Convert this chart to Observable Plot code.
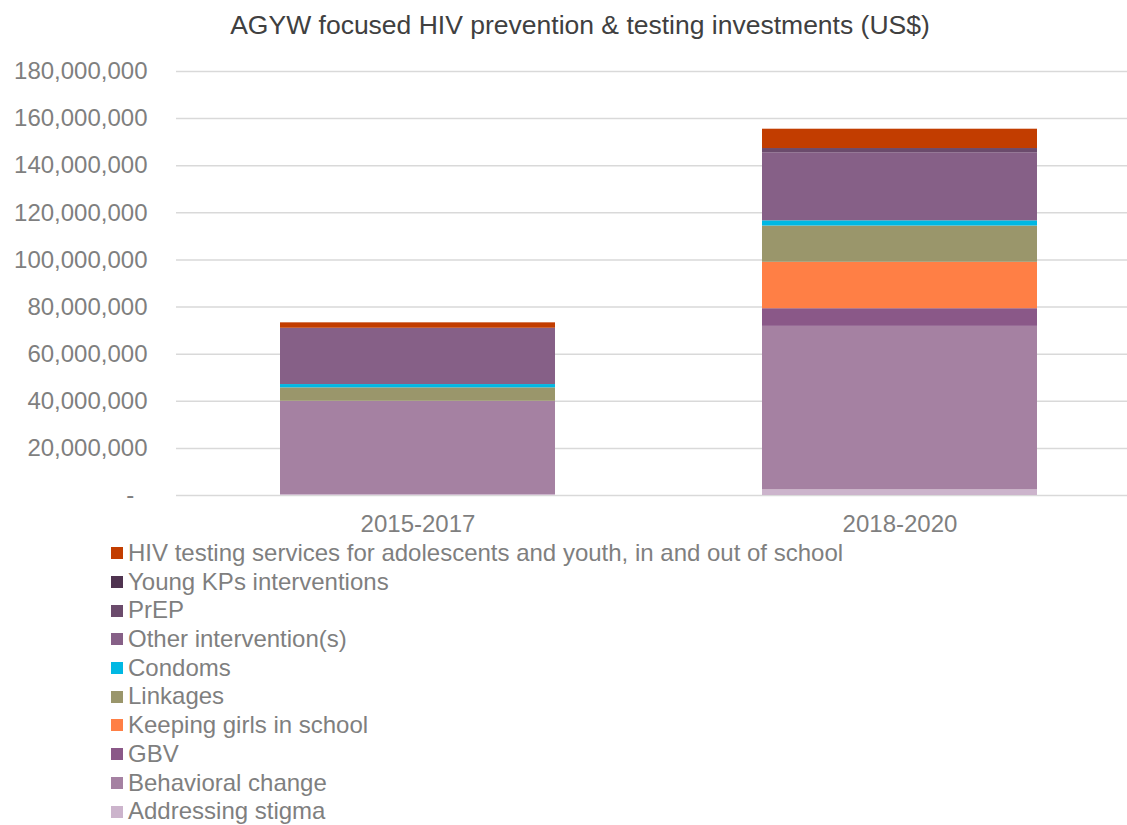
<!DOCTYPE html>
<html>
<head>
<meta charset="utf-8">
<script src="https://cdn.jsdelivr.net/npm/d3@7"></script>
<script src="https://cdn.jsdelivr.net/npm/@observablehq/plot@0.6"></script>
<style>
  html, body { margin: 0; padding: 0; background: #fff; }
  #wrap { position: relative; width: 1127px; height: 825px; font-family: "Liberation Sans", Arial, sans-serif; }
  #title { position: absolute; top: 9px; left: 0; width: 1160px; text-align: center; font-size: 26.5px; line-height: 32px; color: #404040; white-space: nowrap; }
  #chart { position: absolute; top: 0; left: 0; }
  #legend { position: absolute; top: 539px; left: 111px; font-size: 24px; color: #7f7f7f; }
  .item { height: 28.7px; line-height: 28.7px; display: flex; align-items: center; white-space: nowrap; }
  .sw { width: 12px; height: 12px; margin-right: 5px; flex: none; }
</style>
</head>
<body>
<div id="wrap">
  <div id="chart"></div>
  <div id="title">AGYW focused HIV prevention &amp; testing investments (US$)</div>
  <div id="legend"></div>
</div>
<script>
// Periods (x categories)
const periods = ["2015-2017", "2018-2020"];

// Series, stacked bottom to top
const seriesNames = [
  "Addressing stigma",
  "Behavioral change",
  "GBV",
  "Keeping girls in school",
  "Linkages",
  "Condoms",
  "Other intervention(s)",
  "PrEP",
  "Young KPs interventions",
  "HIV testing services for adolescents and youth, in and out of school"
];

// Values in millions of US$, per series, [2015-2017, 2018-2020]
const addressingStigma = [0.4, 2.4];
const behavioralChange = [39.6, 69.4];
const gbv = [0, 7.5];
const keepingGirlsInSchool = [0, 19.7];
const linkages = [5.7, 15.4];
const condoms = [1.4, 2.2];
const otherInterventions = [23.9, 28.9];
const prep = [0, 1.8];
const youngKPs = [0, 0];
const hivTesting = [2.3, 8.2];

const seriesValues = [addressingStigma, behavioralChange, gbv, keepingGirlsInSchool, linkages, condoms, otherInterventions, prep, youngKPs, hivTesting];

const seriesColors = ["#ccb4cc", "#a581a2", "#8a5888", "#ff7f45", "#9a966b", "#00b8e3", "#866087", "#6b4b6c", "#4f3350", "#c23d00"];

// y tick values
const yTicks = [0, 20e6, 40e6, 60e6, 80e6, 100e6, 120e6, 140e6, 160e6, 180e6];

const data = [];
periods.forEach((p, i) => {
  seriesNames.forEach((s, j) => {
    data.push({period: p, series: s, value: seriesValues[j][i] * 1e6});
  });
});

const fmt = d3.format(",");
const chart = Plot.plot({
  width: 1127,
  height: 540,
  marginLeft: 176,
  marginRight: 0,
  marginTop: 71,
  marginBottom: 45,
  style: { fontFamily: "Liberation Sans, Arial, sans-serif", fontSize: "24px", color: "#7f7f7f", background: "transparent" },
  x: { domain: periods, range: [176, 1140], paddingInner: 0.43, paddingOuter: 0.214, label: null },
  y: { domain: [0, 180e6], label: null },
  color: { domain: seriesNames, range: seriesColors },
  marks: [
    Plot.gridY(yTicks, { stroke: "#d9d9d9", strokeOpacity: 1, strokeWidth: 1.5 }),
    Plot.barY(data, { x: "period", y: "value", fill: "series", order: seriesNames, inset: 0 }),
    Plot.axisY(yTicks, { tickSize: 0, tickPadding: 29, fill: "#7f7f7f", fontSize: 24, label: null,
      tickFormat: d => d === 0 ? "-\u00a0\u00a0" : fmt(d) }),
    Plot.axisX({ tickSize: 0, tickPadding: 19, fill: "#7f7f7f", fontSize: 24, label: null })
  ]
});
document.getElementById("chart").appendChild(chart);

// Legend (top to bottom = reverse stacking order)
const legend = document.getElementById("legend");
for (let j = seriesNames.length - 1; j >= 0; j--) {
  const item = document.createElement("div");
  item.className = "item";
  const sw = document.createElement("span");
  sw.className = "sw";
  sw.style.background = seriesColors[j];
  const label = document.createElement("span");
  label.textContent = seriesNames[j];
  item.appendChild(sw);
  item.appendChild(label);
  legend.appendChild(item);
}
</script>
</body>
</html>
